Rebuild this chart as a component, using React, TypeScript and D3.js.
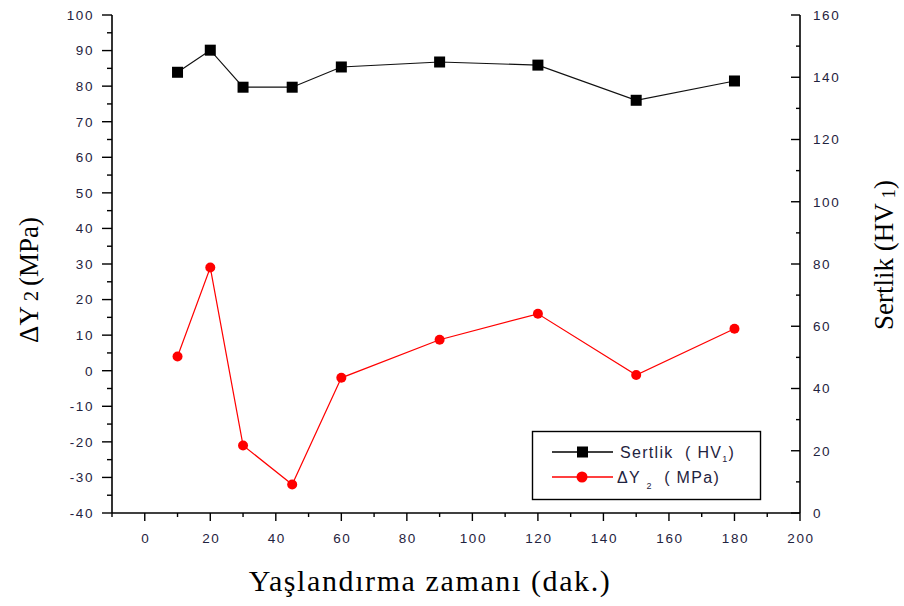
import React, { useEffect, useRef } from "react";
import * as d3 from "d3";

// Aging time (minutes)
const agingTimes = [10, 20, 30, 45, 60, 90, 120, 150, 180];
// Hardness HV1 (right axis)
const hardness = [141.6, 148.7, 136.8, 136.8, 143.3, 144.9, 143.9, 132.6, 138.8];
// ΔY2 in MPa (left axis)
const deltaY2 = [4, 29, -21, -32, -2, 8.7, 16, -1.2, 11.8];

const xTicks = [0, 20, 40, 60, 80, 100, 120, 140, 160, 180, 200];
const leftTicks = [-40, -30, -20, -10, 0, 10, 20, 30, 40, 50, 60, 70, 80, 90, 100];
const rightTicks = [0, 20, 40, 60, 80, 100, 120, 140, 160];

const W = 904;
const H = 606;
const M = { left: 112, right: 800, top: 15, bottom: 513 };
const tickFont = "'Liberation Sans', Arial, sans-serif";
const titleFont = "'Liberation Serif', 'Times New Roman', serif";
const tickColor = "#1f2340";

export default function App() {
  const ref = useRef<SVGSVGElement>(null);

  useEffect(() => {
    const svg = d3.select(ref.current);
    svg.selectAll("*").remove();

    const x = d3.scaleLinear().domain([-10, 200]).range([M.left, M.right]);
    const yL = d3.scaleLinear().domain([-40, 100]).range([M.bottom, M.top]);
    const yR = d3.scaleLinear().domain([0, 160]).range([M.bottom, M.top]);

    const g = svg.append("g");

    // Bottom axis
    const bx = g.append("g").attr("transform", `translate(0,${M.bottom})`);
    bx.append("line").attr("x1", M.left).attr("x2", M.right).attr("stroke", "#000").attr("stroke-width", 1.6);
    d3.range(-10, 201, 10).forEach((v) => {
      const major = v % 20 === 0;
      bx.append("line").attr("x1", x(v)).attr("x2", x(v)).attr("y1", 0).attr("y2", major ? 8 : 4)
        .attr("stroke", "#000").attr("stroke-width", 1.4);
    });
    xTicks.forEach((v) => {
      bx.append("text").attr("x", x(v) + 1).attr("y", 30).attr("text-anchor", "middle")
        .attr("font-family", tickFont).attr("font-size", 13.5).attr("fill", tickColor).attr("letter-spacing", 1.6)
        .text(v);
    });

    // Left axis
    const lx = g.append("g").attr("transform", `translate(${M.left},0)`);
    lx.append("line").attr("y1", M.top).attr("y2", M.bottom).attr("stroke", "#000").attr("stroke-width", 1.6);
    d3.range(-40, 101, 5).forEach((v) => {
      const major = v % 10 === 0;
      lx.append("line").attr("x1", 0).attr("x2", major ? -10 : -5).attr("y1", yL(v)).attr("y2", yL(v))
        .attr("stroke", "#000").attr("stroke-width", 1.4);
    });
    leftTicks.forEach((v) => {
      lx.append("text").attr("x", -18).attr("y", yL(v)).attr("dy", "0.36em").attr("text-anchor", "end")
        .attr("font-family", tickFont).attr("font-size", 13.5).attr("fill", tickColor).attr("letter-spacing", 1.6)
        .text(v);
    });

    // Right axis (ticks point inward)
    const rx = g.append("g").attr("transform", `translate(${M.right},0)`);
    rx.append("line").attr("y1", M.top).attr("y2", M.bottom).attr("stroke", "#000").attr("stroke-width", 1.6);
    d3.range(0, 161, 10).forEach((v) => {
      const major = v % 20 === 0;
      rx.append("line").attr("x1", 0).attr("x2", major ? -9 : -4).attr("y1", yR(v)).attr("y2", yR(v))
        .attr("stroke", "#000").attr("stroke-width", 1.4);
    });
    rightTicks.forEach((v) => {
      rx.append("text").attr("x", 13).attr("y", yR(v)).attr("dy", "0.36em").attr("text-anchor", "start")
        .attr("font-family", tickFont).attr("font-size", 13.5).attr("fill", tickColor).attr("letter-spacing", 1.6)
        .text(v);
    });

    // Series lines
    const hardLine = d3.line<number>().x((_, i) => x(agingTimes[i])).y((d) => yR(d));
    const dyLine = d3.line<number>().x((_, i) => x(agingTimes[i])).y((d) => yL(d));

    g.append("path").datum(hardness).attr("d", hardLine).attr("fill", "none")
      .attr("stroke", "#111").attr("stroke-width", 1.2);
    g.append("path").datum(deltaY2).attr("d", dyLine).attr("fill", "none")
      .attr("stroke", "#ff0000").attr("stroke-width", 1.2);

    hardness.forEach((d, i) => {
      g.append("rect").attr("x", x(agingTimes[i]) - 5.5).attr("y", yR(d) - 5.5)
        .attr("width", 11).attr("height", 11).attr("fill", "#000");
    });
    deltaY2.forEach((d, i) => {
      g.append("circle").attr("cx", x(agingTimes[i])).attr("cy", yL(d)).attr("r", 5).attr("fill", "#ff0000");
    });

    // Legend
    const lg = g.append("g");
    lg.append("rect").attr("x", 532.5).attr("y", 431.5).attr("width", 228).attr("height", 68)
      .attr("fill", "#fff").attr("stroke", "#000").attr("stroke-width", 1.4);
    const rows = [
      { y: 452, color: "#000", kind: "square" },
      { y: 477, color: "#ff0000", kind: "circle" },
    ];
    rows.forEach((r) => {
      lg.append("line").attr("x1", 552).attr("x2", 613).attr("y1", r.y).attr("y2", r.y)
        .attr("stroke", r.color).attr("stroke-width", 1.4);
      if (r.kind === "square") {
        lg.append("rect").attr("x", 577).attr("y", r.y - 5.5).attr("width", 11).attr("height", 11).attr("fill", "#000");
      } else {
        lg.append("circle").attr("cx", 582).attr("cy", r.y).attr("r", 5.5).attr("fill", "#ff0000");
      }
    });
    const t1 = lg.append("text").attr("x", 620).attr("y", 458)
      .attr("font-family", tickFont).attr("font-size", 16).attr("fill", tickColor).attr("letter-spacing", 1.3)
      .attr("xml:space", "preserve");
    t1.append("tspan").text("Sertlik  ( HV");
    t1.append("tspan").attr("font-size", 9).attr("dy", 4).text("1");
    t1.append("tspan").attr("dy", -4).text(")");
    const t2 = lg.append("text").attr("x", 617).attr("y", 483)
      .attr("font-family", tickFont).attr("font-size", 16).attr("fill", tickColor).attr("letter-spacing", 1.3)
      .attr("xml:space", "preserve");
    t2.append("tspan").text("ΔY ");
    t2.append("tspan").attr("font-size", 9).attr("dy", 6).text("2");
    t2.append("tspan").attr("dy", -6).text("  ( MPa)");

    // Axis titles
    svg.append("text").attr("x", 430).attr("y", 591).attr("text-anchor", "middle")
      .attr("font-family", titleFont).attr("font-size", 30).attr("letter-spacing", 1.6).attr("fill", "#000")
      .text("Yaşlandırma zamanı (dak.)");

    const lt = svg.append("text").attr("transform", "translate(38,280) rotate(-90)")
      .attr("text-anchor", "middle").attr("font-family", titleFont).attr("font-size", 27).attr("fill", "#000");
    lt.append("tspan").text("ΔY");
    lt.append("tspan").attr("font-size", 20).text(" 2 ");
    lt.append("tspan").text("(MPa)");

    const rt = svg.append("text").attr("transform", "translate(893,255) rotate(-90)")
      .attr("text-anchor", "middle").attr("font-family", titleFont).attr("font-size", 27).attr("fill", "#000");
    rt.append("tspan").text("Sertlik (HV");
    rt.append("tspan").attr("font-size", 19).attr("dy", 2).text(" 1");
    rt.append("tspan").attr("dy", -2).text(")");
  }, []);

  return (
    <svg
      ref={ref}
      width={W}
      height={H}
      style={{ position: "absolute", left: 0, top: 0, background: "#fff" }}
    />
  );
}
